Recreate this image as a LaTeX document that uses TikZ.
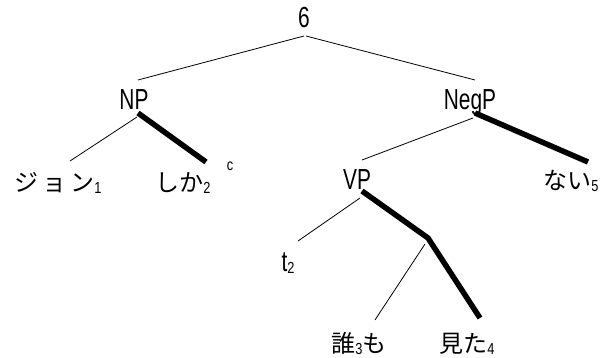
\documentclass[tikz,border=0pt]{standalone}
\usepackage{fontspec}
\setmainfont{Liberation Sans}[FakeStretch=0.72]
\newfontfamily\jfont{Noto Sans CJK JP}
\newfontfamily\subfont{Liberation Sans}[FakeStretch=0.8]
\newcommand\jsub[1]{\raisebox{-2pt}{\fontsize{16}{16}\subfont #1}}
\begin{document}
\begin{tikzpicture}[x=1pt,y=-1pt,
  lbl/.style={inner sep=0pt, anchor=base, font=\fontsize{29}{30}\selectfont},
  jlbl/.style={inner sep=0pt, anchor=base, font=\fontsize{24}{26}\selectfont\jfont},
  supl/.style={inner sep=0pt, anchor=base, font=\fontsize{16}{16}\selectfont\subfont},
  thinedge/.style={line width=0.8pt},
  thickedge/.style={line width=5.5pt, line join=miter}]
\useasboundingbox[fill=white] (0,0) rectangle (608,358);
\node[lbl] (six) at (304,28) {6};
\node[lbl] (NP) at (134,110) {NP};
\node[lbl] (NegP) at (470,110) {NegP};
\node[jlbl] (john) at (58,192) {ジ\kern4ptョ\kern4ptン\jsub{1}};
\node[jlbl] (shika) at (183,192) {しか\jsub{2}};
\node[supl] (c) at (230,171) {c};
\node[lbl] (VP) at (357,190) {VP};
\node[lbl] (t) at (288,272) {t\jsub{2}};
\node[jlbl] (nai) at (571,190) {ない\jsub{5}};
\coordinate (k) at (428,238);
\node[jlbl] (dare) at (359,352) {誰\jsub{3}も};
\node[jlbl] (mita) at (467,352) {見た\jsub{4}};
\draw[thinedge] ([yshift=-8pt]six.base) -- ([xshift=4pt,yshift=30pt]NP.base);
\draw[thinedge] ([xshift=2pt,yshift=-8pt]six.base) -- ([xshift=5pt,yshift=30pt]NegP.base);
\draw[thinedge] ([xshift=3pt,yshift=-7pt]NP.base) -- ([xshift=12pt,yshift=31pt]john.base);
\draw[thickedge] ([xshift=4pt,yshift=-3pt]NP.base) -- ([xshift=23pt,yshift=30pt]shika.base);
\draw[thinedge] ([xshift=3pt,yshift=-8pt]NegP.base) -- ([xshift=5pt,yshift=30pt]VP.base);
\draw[thickedge] ([xshift=5pt,yshift=-3pt]NegP.base) -- ([xshift=17pt,yshift=28pt]nai.base);
\draw[thinedge] ([xshift=3pt,yshift=-8pt]VP.base) -- ([xshift=10pt,yshift=31pt]t.base);
\draw[thickedge] ([xshift=5pt,yshift=-1pt]VP.base) -- (k) -- ([xshift=13pt,yshift=34pt]mita.base);
\draw[thinedge] ([xshift=-3pt,yshift=-6pt]k) -- ([xshift=16pt,yshift=32pt]dare.base);
\end{tikzpicture}
\end{document}
